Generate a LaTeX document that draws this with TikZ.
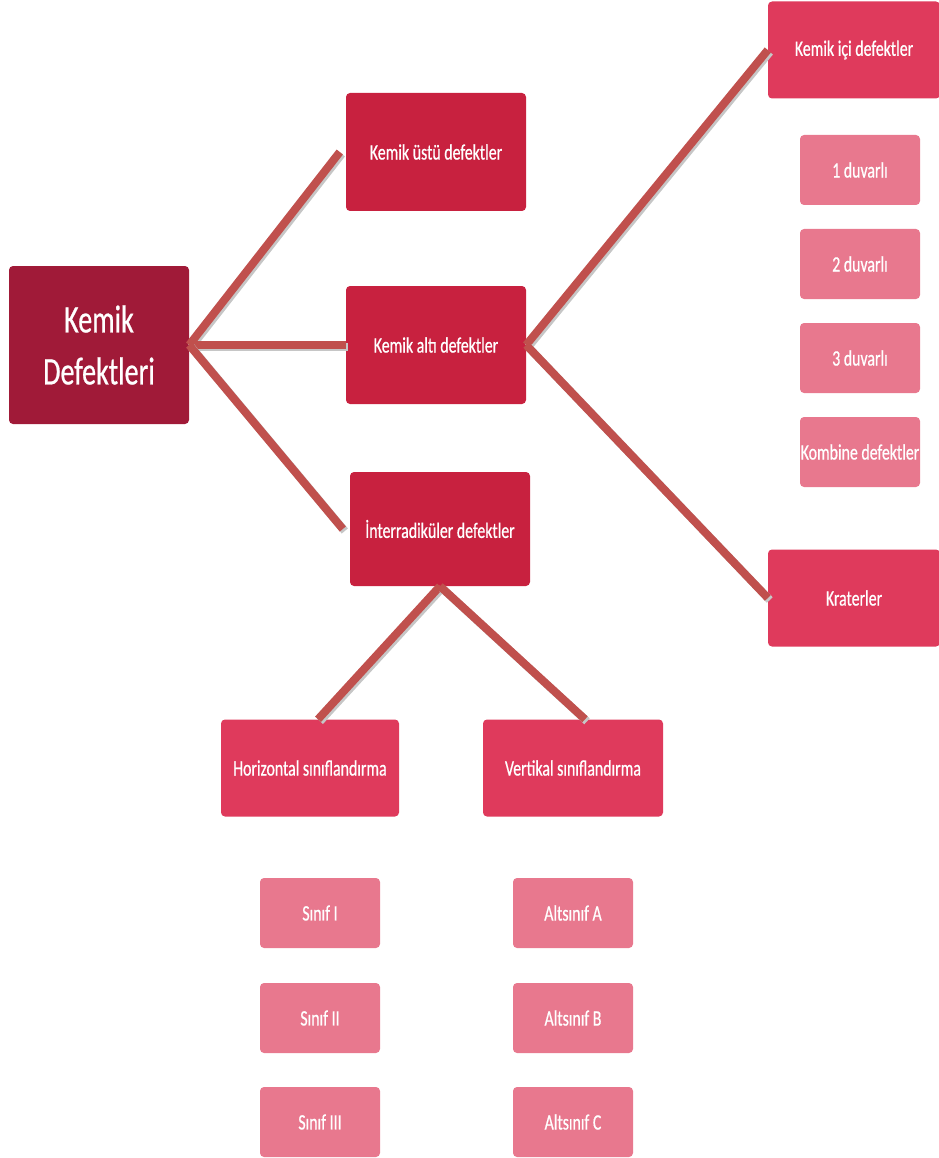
\documentclass[tikz,border=0pt]{standalone}
\usepackage{fontspec}
\setmainfont{Carlito}[FakeStretch=0.72, FakeBold=0.6]
\usetikzlibrary{positioning}

\definecolor{rootred}{HTML}{A01A38}
\definecolor{midred}{HTML}{C8213F}
\definecolor{subred}{HTML}{DF3A5C}
\definecolor{leafpink}{HTML}{E8788E}
\definecolor{linkred}{HTML}{C0504D}

\begin{document}
\begin{tikzpicture}[x=1pt, y=-1pt]
    \tikzstyle{box}=[rectangle, rounded corners=4pt, text=white, align=center, inner sep=0pt]
    \tikzstyle{rootbox}=[box, fill=rootred, minimum width=180, minimum height=158]
    \tikzstyle{midbox}=[box, fill=midred, minimum width=180, minimum height=118, font=\fontsize{22}{24}\selectfont]
    \tikzstyle{subbox}=[box, fill=subred, minimum width=178, minimum height=97, font=\fontsize{22}{24}\selectfont]
    \tikzstyle{leafbox}=[box, fill=leafpink, minimum width=120, minimum height=70, font=\fontsize{22}{24}\selectfont]
    \tikzstyle{link}=[line width=8pt, draw=linkred,
        preaction={draw=gray!45, line width=8pt, transform canvas={shift={(2pt,-2pt)}}}]

    \useasboundingbox (0,0) rectangle (938,1158);

    % main branch
    \node[rootbox, font=\fontsize{39}{52}\selectfont] (root) at (99,345) {Kemik\\Defektleri};
    \node[midbox] (ustu) at (436,152) {Kemik üstü defektler};
    \node[midbox] (alti) at (436,345) {Kemik altı defektler};
    \node[midbox, minimum height=114] (inter) at (440,529) {İnterradiküler defektler};

    % kemik alti
    \node[subbox, minimum width=172] (ici) at (854,50) {Kemik içi defektler};
    \node[leafbox] (d1) at (860,170) {1 duvarlı};
    \node[leafbox] (d2) at (860,264) {2 duvarlı};
    \node[leafbox] (d3) at (860,358) {3 duvarlı};
    \node[leafbox] (komb) at (860,452) {Kombine defektler};
    \node[subbox, minimum width=172] (krater) at (854,598) {Kraterler};

    % interradikuler
    \node[subbox] (horiz) at (310,768) {Horizontal sınıflandırma};
    \node[subbox, minimum width=180] (vert) at (573,768) {Vertikal sınıflandırma};
    \node[leafbox] (s1) at (320,913) {Sınıf I};
    \node[leafbox] (s2) at (320,1018) {Sınıf II};
    \node[leafbox] (s3) at (320,1122) {Sınıf III};
    \node[leafbox] (a1) at (573,913) {Altsınıf A};
    \node[leafbox] (a2) at (573,1018) {Altsınıf B};
    \node[leafbox] (a3) at (573,1122) {Altsınıf C};

    % links
    \draw[link] (root.east) -- ([xshift=-6pt]ustu.west);
    \draw[link] (root.east) -- (alti.west);
    \draw[link] (root.east) -- ([xshift=-7pt]inter.west);
    \draw[link] (alti.east) -- (ici.west);
    \draw[link] (alti.east) -- (krater.west);
    \draw[link] (inter.south) -- ([xshift=8pt]horiz.north);
    \draw[link] (inter.south) -- ([xshift=12pt]vert.north);

\end{tikzpicture}
\end{document}
